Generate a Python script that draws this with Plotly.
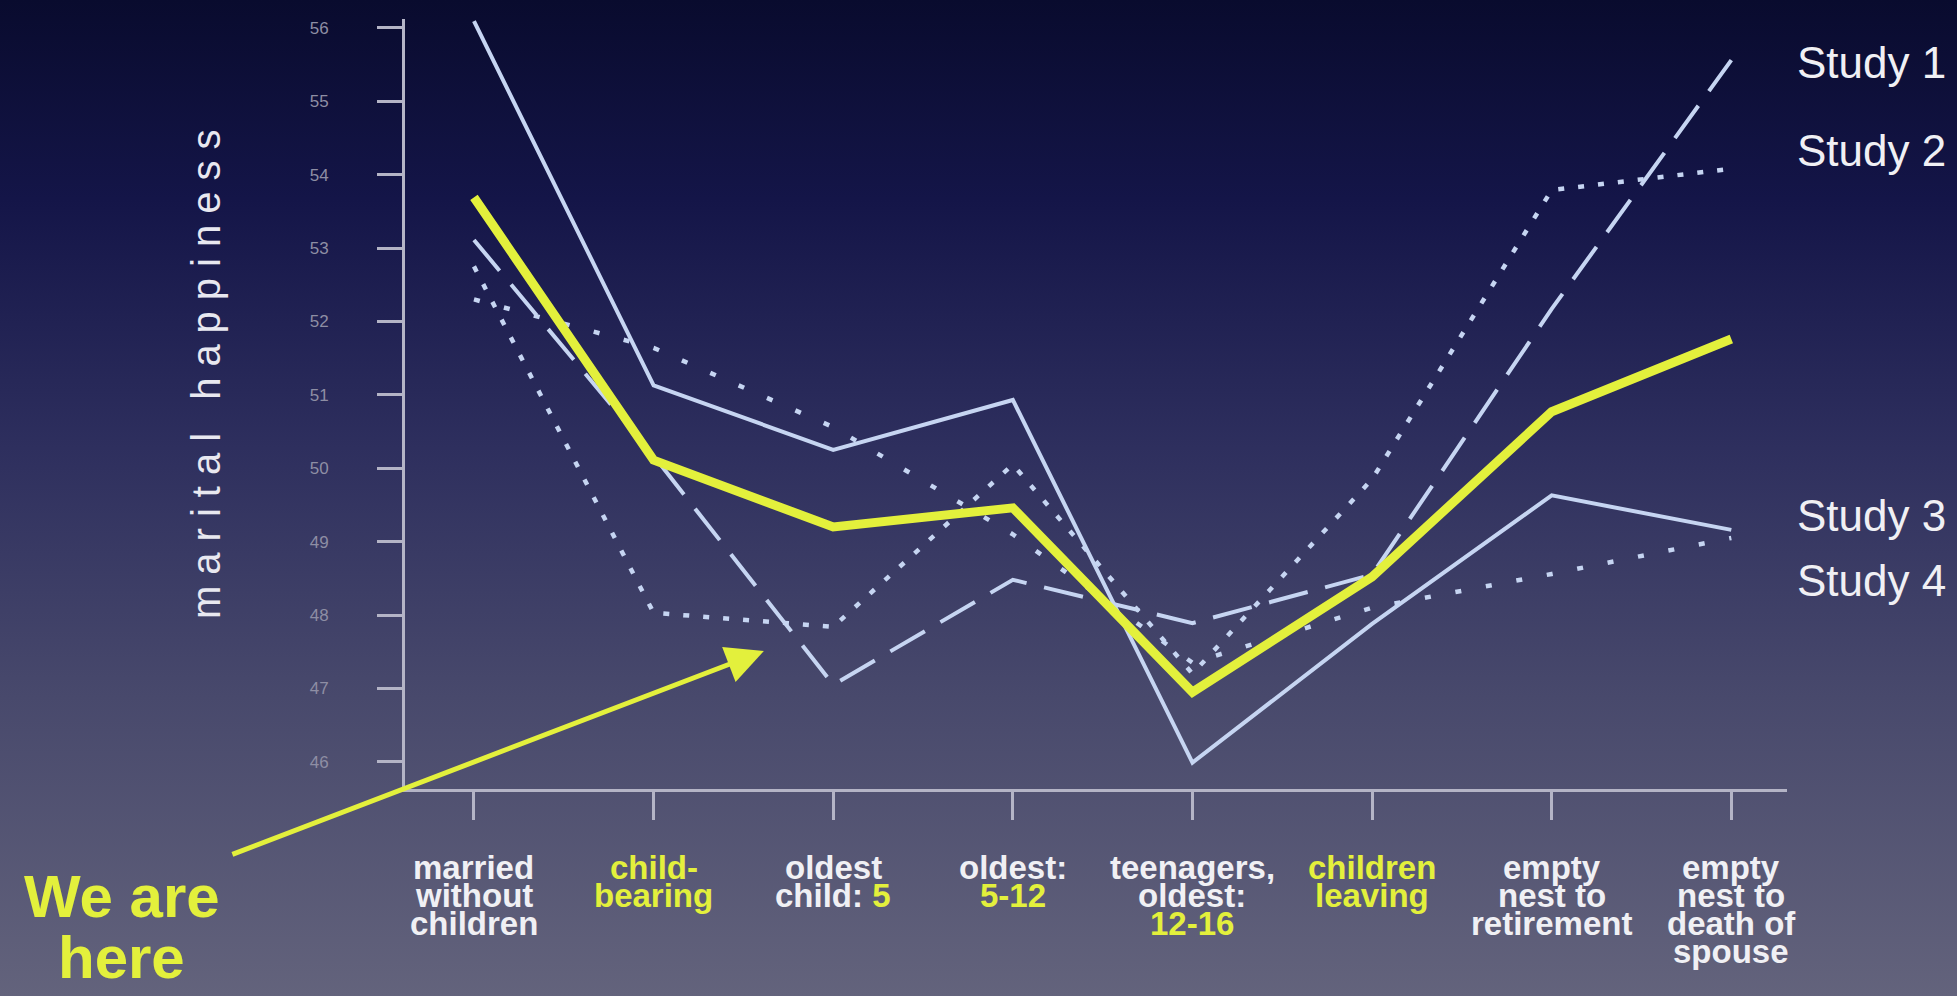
import base64
import plotly.graph_objects as go

# ---------------- data ----------------
stages = ["married without children", "child-bearing", "oldest child: 5", "oldest: 5-12",
          "teenagers, oldest: 12-16", "children leaving", "empty nest to retirement",
          "empty nest to death of spouse"]
study1 = [53.11, 50.17, 47.05, 48.48, 47.89, 48.55, 52.17, 55.56]
study2 = [52.75, 48.03, 47.84, 50.05, 47.20, 49.85, 53.79, 54.08]
study3 = [56.09, 51.13, 50.25, 50.93, 45.99, 47.88, 49.63, 49.16]
study4 = [52.30, 51.64, 50.56, 49.10, 47.35, 48.10, 48.56, 49.05]
average = [53.69, 50.11, 49.20, 49.46, 46.95, 48.52, 50.77, 51.76]
y_ticks = [46, 47, 48, 49, 50, 51, 52, 53, 54, 55, 56]
study_names = ["Study 1", "Study 2", "Study 3", "Study 4"]

W = "w"
Y = "y"
stage_label_lines = [
    [[("married", W)], [("without", W)], [("children", W)]],
    [[("child-", Y)], [("bearing", Y)]],
    [[("oldest", W)], [("child: ", W), ("5", Y)]],
    [[("oldest:", W)], [("5-12", Y)]],
    [[("teenagers,", W)], [("oldest:", W)], [("12-16", Y)]],
    [[("children", Y)], [("leaving", Y)]],
    [[("empty", W)], [("nest to", W)], [("retirement", W)]],
    [[("empty", W)], [("nest to", W)], [("death of", W)], [("spouse", W)]],
]

# ---------------- styles ----------------
YELLOW = "#e3f03c"
BLUE = "#c6d5f2"
AXIS = "#b4b4c6"
TEXT_W = "#f0f0f4"
COL = {W: TEXT_W, Y: YELLOW}

fig = go.Figure()

line_styles = [
    dict(color=BLUE, width=4, dash="40px,18px"),
    dict(color=BLUE, width=4.5, dash="6px,14px"),
    dict(color=BLUE, width=4),
    dict(color=BLUE, width=4.5, dash="6px,25px"),
]
for name, vals, st in zip(study_names, [study1, study2, study3, study4], line_styles):
    fig.add_trace(go.Scatter(x=stages, y=vals, mode="lines", name=name, line=st,
                             showlegend=False))

fig.add_trace(go.Scatter(x=stages, y=average, mode="lines", name="average",
                         line=dict(color=YELLOW, width=9), showlegend=False))

# ---------------- background gradient ----------------
svg = ('<svg xmlns="http://www.w3.org/2000/svg" width="1957" height="996" '
       'preserveAspectRatio="none"><defs><linearGradient id="g" x1="0" y1="0" x2="0" y2="1">'
       '<stop offset="0" stop-color="#090b2e"/>'
       '<stop offset="0.2" stop-color="#141548"/>'
       '<stop offset="0.45" stop-color="#2e2f5e"/>'
       '<stop offset="0.7" stop-color="#48496c"/>'
       '<stop offset="1" stop-color="#63637c"/>'
       '</linearGradient></defs><rect width="1957" height="996" fill="url(#g)"/></svg>')
src = "data:image/svg+xml;base64," + base64.b64encode(svg.encode()).decode()

L, R, T, B = 405, 170, 19, 207
FW, FH = 1957, 996
PW, PH = FW - L - R, FH - T - B

fig.add_layout_image(dict(source=src, xref="paper", yref="paper",
                          x=-L / PW, y=1 + T / PH, sizex=FW / PW, sizey=FH / PH,
                          sizing="stretch", xanchor="left", yanchor="top", layer="below"))

annotations = []
# stage labels, one annotation per line
pitch = 28
first_off = 78
for i, lines in enumerate(stage_label_lines):
    for j, parts in enumerate(lines):
        txt = "".join(f'<span style="color:{COL[c]}">{t}</span>' for t, c in parts)
        annotations.append(dict(x=i, y=0, xref="x", yref="paper", text=txt,
                                showarrow=False, xanchor="center", yanchor="middle",
                                yshift=-(first_off + j * pitch),
                                font=dict(family="Liberation Sans, Arial", size=33,
                                          color=TEXT_W, weight="bold")))

# study labels at the right
label_shift = [-2, 18, 14, -43]
for name, vals, ys in zip(study_names, [study1, study2, study3, study4], label_shift):
    annotations.append(dict(x=1.0058, y=vals[-1], xref="paper", yref="y", text=name,
                            showarrow=False, xanchor="left", yanchor="middle", yshift=ys,
                            font=dict(family="Liberation Sans, Arial", size=44, color=TEXT_W)))

# y-axis title
annotations.append(dict(x=(206 - L) / PW, y=(FH - B - 369) / PH, xref="paper", yref="paper",
                        text='<span style="letter-spacing:11px">marital happiness</span>',
                        textangle=-90, showarrow=False, xanchor="center", yanchor="middle",
                        font=dict(family="Liberation Sans, Arial", size=40, color="#e8e8f0")))

# "We are here"
annotations.append(dict(x=(122 - L) / PW, y=(FH - B - 896) / PH, xref="paper", yref="paper",
                        text="We are", showarrow=False, xanchor="center", yanchor="middle",
                        font=dict(family="Liberation Sans, Arial", size=60, color=YELLOW,
                                  weight="bold")))
annotations.append(dict(x=(121 - L) / PW, y=(FH - B - 957) / PH, xref="paper", yref="paper",
                        text="here", showarrow=False, xanchor="center", yanchor="middle",
                        font=dict(family="Liberation Sans, Arial", size=60, color=YELLOW,
                                  weight="bold")))
# arrow
annotations.append(dict(x=1.614, y=47.51, xref="x", yref="y", ax=-533, ay=204,
                        axref="pixel", ayref="pixel", text="", showarrow=True,
                        arrowhead=2, arrowsize=1.5, arrowwidth=5, arrowcolor=YELLOW))

fig.update_layout(
    template="none",
    width=FW, height=FH,
    margin=dict(l=L, r=R, t=T, b=B, autoexpand=False),
    paper_bgcolor="#2e2f5e",
    plot_bgcolor="rgba(0,0,0,0)",
    showlegend=False,
    annotations=annotations,
    xaxis=dict(type="category", range=[-0.384, 7.31], showgrid=False, zeroline=False,
               showline=True, linecolor=AXIS, linewidth=3,
               ticks="outside", ticklen=28, tickwidth=3, tickcolor=AXIS,
               showticklabels=False, automargin=False),
    yaxis=dict(range=[45.63, 56.12], showgrid=False, zeroline=False,
               showline=True, linecolor=AXIS, linewidth=3,
               ticks="outside", ticklen=25, tickwidth=3, tickcolor=AXIS,
               tickvals=y_ticks, ticktext=[str(v) for v in y_ticks],
               tickfont=dict(family="Liberation Sans Narrow, Liberation Sans, Arial",
                             size=17, color="#8e8ea4"),
               ticklabelstandoff=45, automargin=False),
)

fig.write_html("out.html", config={"displayModeBar": False},
               post_script="document.body.style.margin='0';document.body.style.overflow='hidden';")
